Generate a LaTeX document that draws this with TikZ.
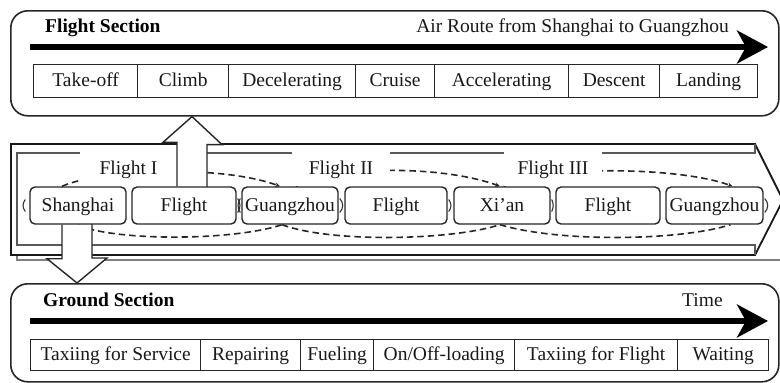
\documentclass[tikz,border=0pt]{standalone}
\usepackage{fontspec}
\setmainfont{Liberation Serif}
\usetikzlibrary{arrows.meta}
\pgfdeclarelayer{back}
\pgfsetlayers{back,main}
\newcommand\figfont{\fontsize{19.5}{23}\selectfont}
\begin{document}
\begin{tikzpicture}[x=1pt,y=-1pt,
  panel/.style={draw=black!85, line width=1.6pt, rounded corners=17pt, inner sep=0pt, anchor=north west},
  cell/.style={draw=black!85, line width=1.3pt, inner sep=0pt, anchor=north west, font=\figfont, text=black!90, text height=15pt, text depth=3.5pt},
  stopbox/.style={draw=black!85, line width=1.4pt, rounded corners=5pt, fill=white, inner sep=0pt, minimum height=37pt, font=\figfont, text=black!90, text height=15pt, text depth=3.5pt},
  heading/.style={anchor=base west, font=\figfont\bfseries, inner sep=0pt},
  caption/.style={anchor=base west, font=\figfont, inner sep=0pt, text=black!90},
  timeline/.style={line width=6pt, -{Stealth[length=31pt, width=33pt, inset=9pt]}},
  routeedge/.style={line width=1.8pt, black!90},
  routeinner/.style={line width=1.4pt, black!65},
  loopline/.style={line width=1.6pt, black!85, dash pattern=on 6.5pt off 4pt},
  flighttag/.style={fill=white, inner sep=0pt, minimum width=98pt, minimum height=34pt, font=\figfont, text=black!90, text height=15pt, text depth=3.5pt},
  bigarrow/.style={draw=black!85, line width=1.4pt, fill=white},
  nick/.style={line width=1.1pt, black!80},
  tip/.style={-{Stealth[length=5pt, width=4.5pt]}},
]
\useasboundingbox (0,0) rectangle (780,383);

% ---------- flight section ----------
\node[panel, minimum width=768pt, minimum height=105pt] (fsec) at (10,10) {};
\node[heading] (fsh) at (45,32) {Flight Section};
\node[caption, anchor=base east] (fsr) at (729,32) {Air Route from Shanghai to Guangzhou};
\coordinate (fs0) at (30,47);
\coordinate (fs1) at (768,47);
\draw[timeline] (fs0) -- (fs1);
\node[cell, minimum width=104pt, minimum height=33pt] (p1) at (33,64)  {Take-off};
\node[cell, minimum width=91pt,  minimum height=33pt] (p2) at (137,64) {Climb};
\node[cell, minimum width=127pt, minimum height=33pt] (p3) at (228,64) {Decelerating};
\node[cell, minimum width=79pt,  minimum height=33pt] (p4) at (355,64) {Cruise};
\node[cell, minimum width=134pt, minimum height=33pt] (p5) at (434,64) {Accelerating};
\node[cell, minimum width=91pt,  minimum height=33pt] (p6) at (568,64) {Descent};
\node[cell, minimum width=98pt,  minimum height=33pt] (p7) at (659,64) {Landing};

% ---------- ground section ----------
\node[panel, minimum width=768pt, minimum height=98pt] (gsec) at (10,283) {};
\node[heading] (gsh) at (43,306) {Ground Section};
\node[caption] (gst) at (682,306) {Time};
\coordinate (gs0) at (30,321);
\coordinate (gs1) at (768,321);
\draw[timeline] (gs0) -- (gs1);
\node[cell, minimum width=170pt, minimum height=31pt] (g1) at (30,339)  {Taxiing for Service};
\node[cell, minimum width=100pt, minimum height=31pt] (g2) at (200,339) {Repairing};
\node[cell, minimum width=73pt,  minimum height=31pt] (g3) at (300,339) {Fueling};
\node[cell, minimum width=141pt, minimum height=31pt] (g4) at (373,339) {On/Off-loading};
\node[cell, minimum width=163pt, minimum height=31pt] (g5) at (514,339) {Taxiing for Flight};
\node[cell, minimum width=91pt,  minimum height=31pt] (g6) at (677,339) {Waiting};

% ---------- stops and flights of the route ----------
\node[stopbox, minimum width=96pt]  (sh)  at (78,205.5)  {Shanghai};
\node[stopbox, minimum width=104pt] (f1)  at (184,205.5) {Flight};
\node[stopbox, minimum width=96pt]  (gz1) at (290,205.5) {Guangzhou};
\node[stopbox, minimum width=102pt] (f2)  at (396,205.5) {Flight};
\node[stopbox, minimum width=96pt]  (xa)  at (502,205.5) {Xi’an};
\node[stopbox, minimum width=104pt] (f3)  at (608,205.5) {Flight};
\node[stopbox, minimum width=97pt]  (gz2) at (714.5,205.5) {Guangzhou};

\begin{pgfonlayer}{back}
  % layered block arrow behind the stops
  \draw[routeinner, black!50] (17,255) -- (17,260) -- (790,260);
  \draw[routeedge] (11,144) -- (755,144) -- (783,200) -- (755,255) -- (11,255) -- cycle;
  \draw[routeinner] (80,153) -- (17,153) -- (17,245) -- (755,245) -- (755,255);
  \draw[routeinner] (207,153) -- (292,153);
  \draw[routeinner] (390,153) -- (504,153);
  \draw[routeinner] (602,153) -- (755,153) -- (755,144);

  % dashed flight loops
  \draw[loopline, tip] ([xshift=-16pt]sh.north) .. controls +(38,-17) and +(-60,-22) .. ([xshift=-10pt]gz1.north);
  \draw[loopline] (sh.south) .. controls +(32,16) and +(-52,17) .. ([xshift=-8pt]gz1.south);
  \draw[loopline, tip] ([xshift=6pt]gz1.north) .. controls +(34,-20) and +(-60,-22) .. ([xshift=-2pt]xa.north);
  \draw[loopline] ([xshift=-8pt]gz1.south) .. controls +(48,18) and +(-50,16) .. ([xshift=-2pt]xa.south);
  \draw[loopline, tip] ([xshift=2pt]xa.north) .. controls +(36,-21) and +(-53,-20) .. ([xshift=18pt]gz2.north);
  \draw[loopline] ([xshift=-2pt]xa.south) .. controls +(60,18) and +(-50,16) .. ([xshift=16pt]gz2.south);

  % flight labels
  \node[flighttag] (lf1) at (128.5,169) {Flight I};
  \node[flighttag] (lf2) at (341,169) {Flight II};
  \node[flighttag] (lf3) at (553,169) {Flight III};

  % hollow arrows to the two sections
  \coordinate (ua) at ([xshift=8pt]f1.north);
  \draw[bigarrow] ([xshift=-15pt]ua) -- ++(0,-44) -- ++(-14,0) -- (ua |- fsec.south)
    -- ++(30,28) -- ++(-15,0) -- ++(0,44);
  \coordinate (da) at ([xshift=-1pt]sh.south);
  \draw[bigarrow] ([xshift=-15pt]da) -- ++(0,34) -- ++(-15,0) -- (da |- gsec.north)
    -- ++(30,-25) -- ++(-15,0) -- ++(0,-34);
\end{pgfonlayer}

% small joints between neighbouring stops
\draw[nick] ([xshift=-4pt,yshift=6pt]sh.west) .. controls +(-3,4) and +(-3,-4) .. ([xshift=-4pt,yshift=-6pt]sh.west);
\draw[nick] ([xshift=1pt,yshift=7pt]f1.east) .. controls +(3,4) and +(3,-4) .. ([xshift=1pt,yshift=-7pt]f1.east);
\draw[nick] ([xshift=-1pt,yshift=7pt]gz1.west) .. controls +(-3,4) and +(-3,-4) .. ([xshift=-1pt,yshift=-7pt]gz1.west);
\draw[nick] ([xshift=1pt,yshift=7pt]gz1.east) .. controls +(4,4) and +(4,-4) .. ([xshift=1pt,yshift=-7pt]gz1.east);
\draw[nick] ([xshift=1pt,yshift=6pt]f2.east) .. controls +(3,4) and +(3,-4) .. ([xshift=1pt,yshift=-6pt]f2.east);
\draw[nick] ([xshift=1pt,yshift=6pt]xa.east) .. controls +(2,4) and +(2,-4) .. ([xshift=1pt,yshift=-6pt]xa.east);
\draw[nick] ([xshift=1pt,yshift=7pt]gz2.east) .. controls +(4,4) and +(4,-4) .. ([xshift=1pt,yshift=-7pt]gz2.east);
\end{tikzpicture}
\end{document}
